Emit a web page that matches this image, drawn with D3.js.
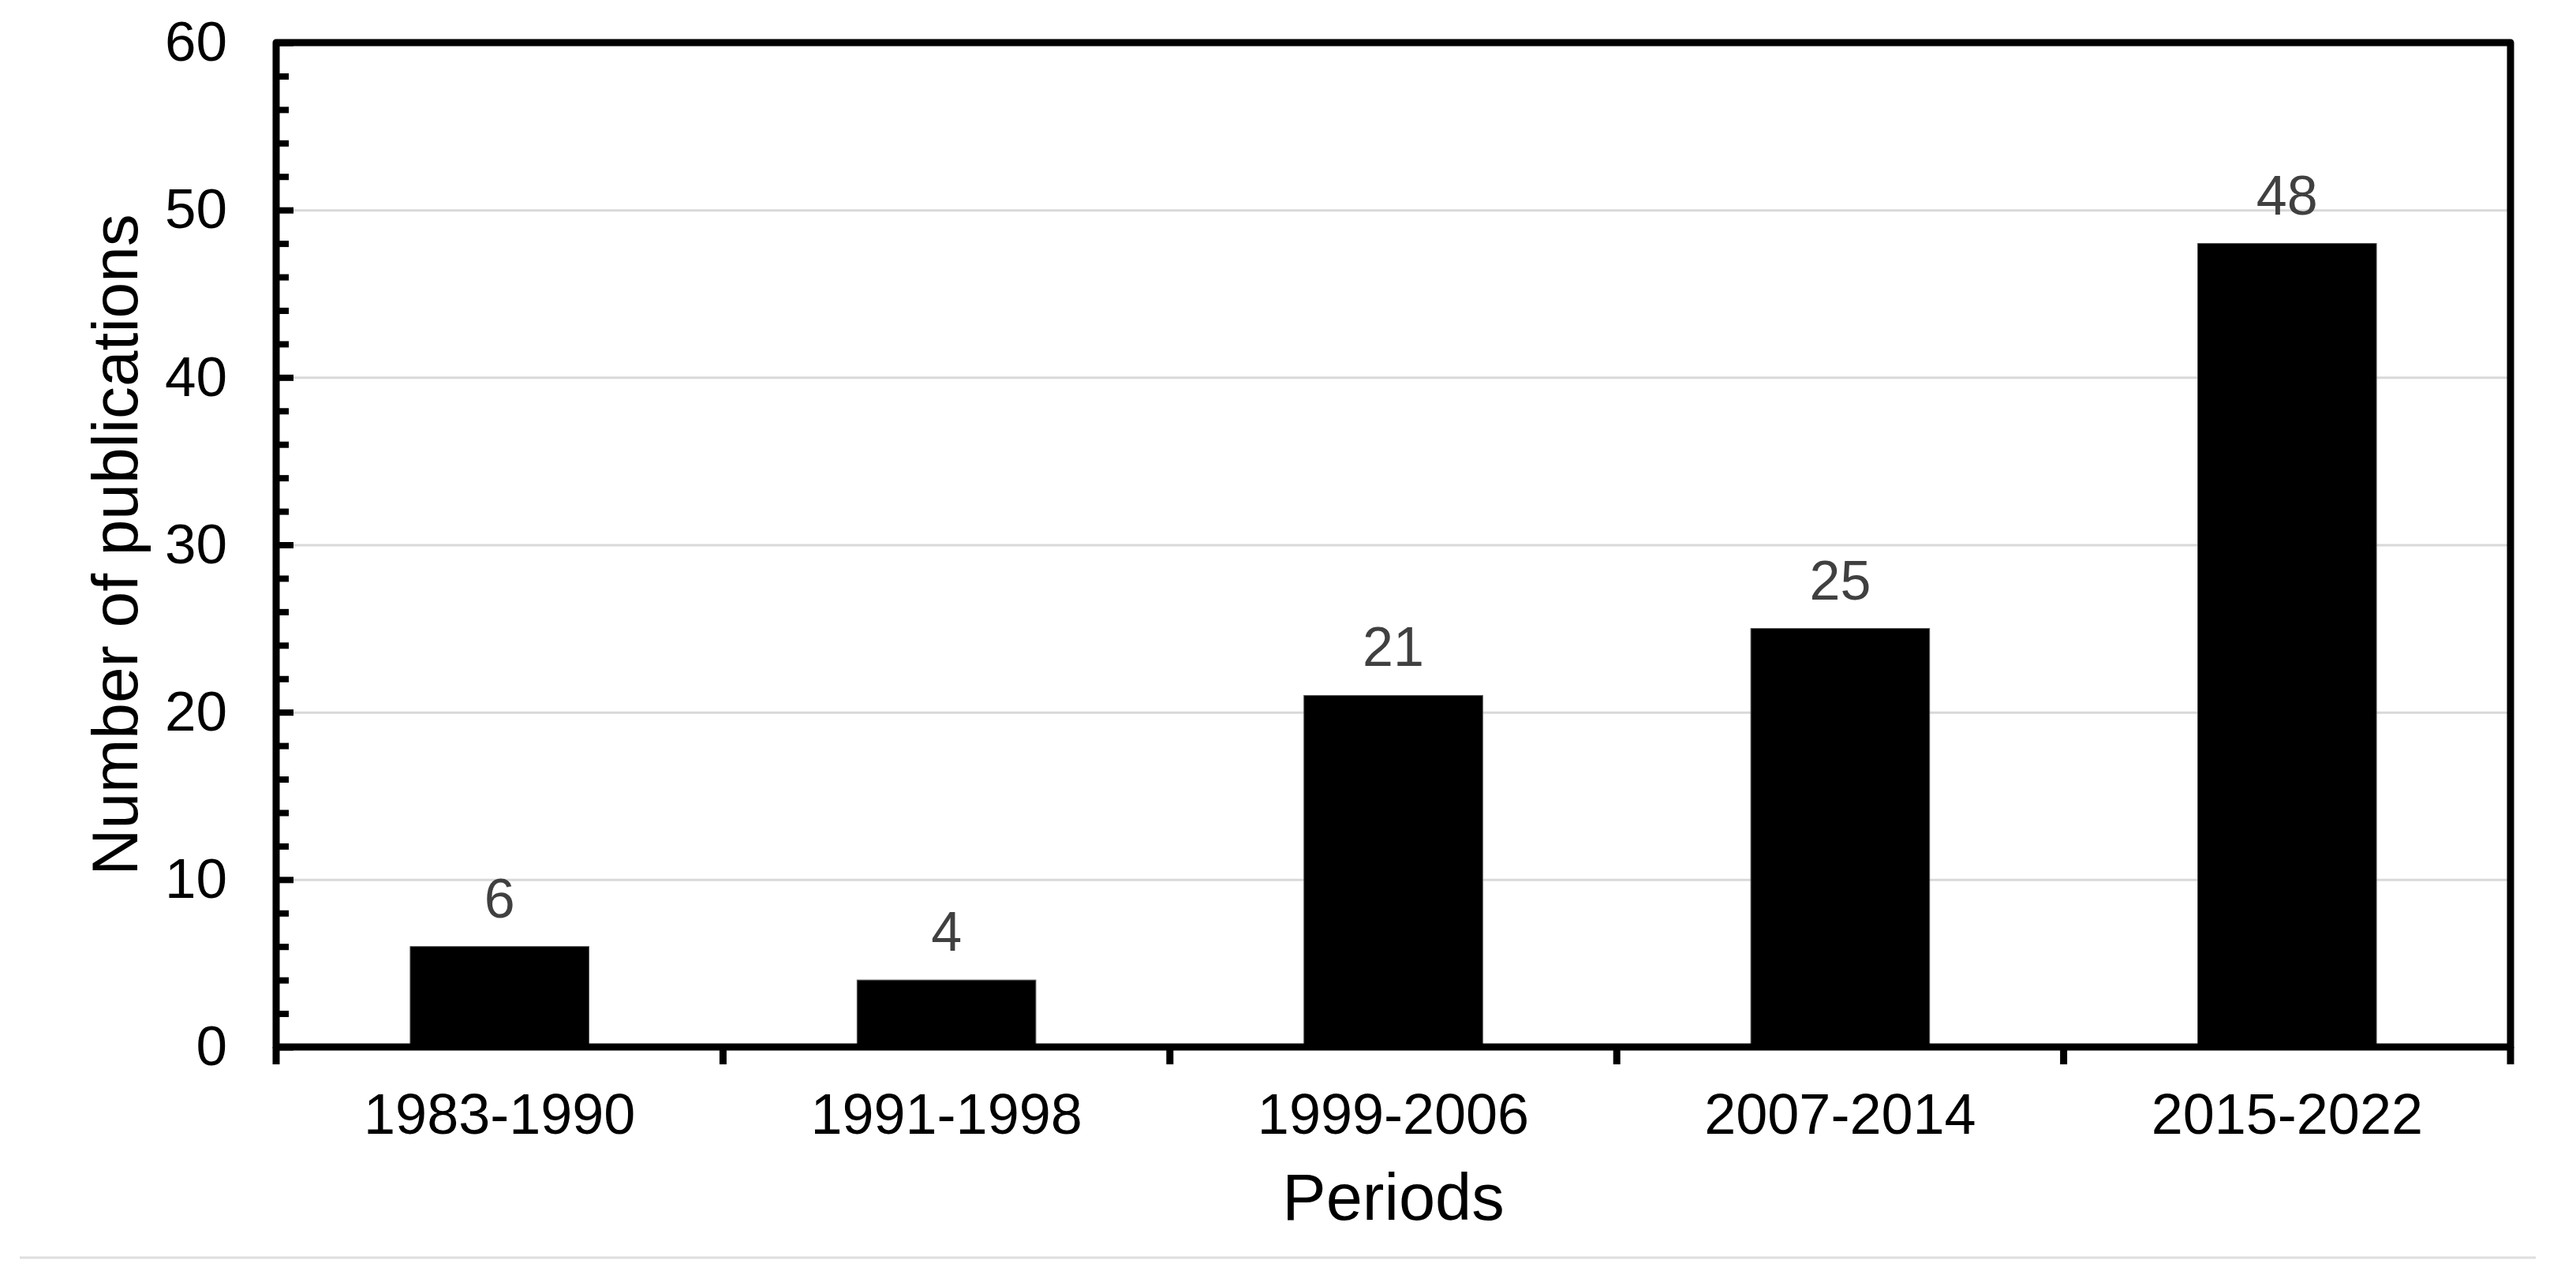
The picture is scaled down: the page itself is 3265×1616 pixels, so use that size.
<!DOCTYPE html>
<html>
<head>
<meta charset="utf-8">
<script src="https://cdn.jsdelivr.net/npm/d3@7"></script>
<style>
  html, body { margin: 0; padding: 0; background: #ffffff; }
  svg { display: block; }
  text { font-family: "Liberation Sans", Arial, sans-serif; }
</style>
</head>
<body>
<svg id="chart" width="3265" height="1616"></svg>
<script>
// ---- data ----
const categories = ["1983-1990", "1991-1998", "1999-2006", "2007-2014", "2015-2022"];
const values = [6, 4, 21, 25, 48];
const yMajorTicks = [0, 10, 20, 30, 40, 50, 60];
const yMinorTicks = [2, 4, 6, 8, 12, 14, 16, 18, 22, 24, 26, 28, 32, 34, 36, 38, 42, 44, 46, 48, 52, 54, 56, 58];
const gridTicks = [10, 20, 30, 40, 50];
const xTitle = "Periods";
const yTitle = "Number of publications";

(function () {
// ---- layout ----
const plotLeft = 350, plotRight = 3182, plotTop = 54, plotBottom = 1327;
const svg = d3.select("#chart");

const x = d3.scaleBand().domain(categories).range([plotLeft, plotRight]).paddingInner(0.6).paddingOuter(0.3);
const y = d3.scaleLinear().domain([0, 60]).range([plotBottom, plotTop]);

// gridlines
const grid = svg.append("g").attr("transform", `translate(${plotLeft},0)`)
  .call(d3.axisLeft(y).tickValues(gridTicks).tickSize(-(plotRight - plotLeft)).tickFormat(""));
grid.select(".domain").remove();
grid.selectAll(".tick line").attr("stroke", "#d9d9d9").attr("stroke-width", 3);

// bars
svg.append("g").selectAll("rect").data(values).join("rect")
  .attr("x", (d, i) => x(categories[i]))
  .attr("y", d => y(d))
  .attr("width", x.bandwidth())
  .attr("height", d => y(0) - y(d))
  .attr("fill", "#000000")
  .attr("stroke", "#555555")
  .attr("stroke-width", 1);

// data labels
svg.append("g").selectAll("text").data(values).join("text")
  .attr("x", (d, i) => x(categories[i]) + x.bandwidth() / 2)
  .attr("y", d => y(d) - 37)
  .attr("text-anchor", "middle")
  .attr("font-size", 70)
  .attr("fill", "#404040")
  .text(d => d);

// y minor ticks (inward)
const yMinor = svg.append("g").attr("transform", `translate(${plotLeft},0)`)
  .call(d3.axisLeft(y).tickValues(yMinorTicks).tickSize(-16).tickFormat(""));
yMinor.select(".domain").remove();
yMinor.selectAll(".tick line").attr("stroke", "#000").attr("stroke-width", 8);

// y major ticks + labels
const yAxis = svg.append("g").attr("transform", `translate(${plotLeft},0)`)
  .call(d3.axisLeft(y).tickValues(yMajorTicks).tickSize(-22).tickPadding(62));
yAxis.select(".domain").remove();
yAxis.selectAll(".tick line").attr("stroke", "#000").attr("stroke-width", 8);
yAxis.selectAll(".tick text").attr("font-size", 71).attr("fill", "#000")
  .attr("font-family", "'Liberation Sans', Arial, sans-serif");

// x axis labels
const xAxis = svg.append("g").attr("transform", `translate(0,${plotBottom})`)
  .call(d3.axisBottom(x).tickSize(0).tickPadding(59));
xAxis.select(".domain").remove();
xAxis.selectAll(".tick text").attr("font-size", 72).attr("fill", "#000")
  .attr("font-family", "'Liberation Sans', Arial, sans-serif");

// x boundary ticks (outward)
const gap = (x.step() - x.bandwidth()) / 2;
const boundaries = categories.map(c => x(c) - gap).concat([x(categories[categories.length - 1]) + x.bandwidth() + gap]);
svg.append("g").selectAll("line").data(boundaries).join("line")
  .attr("x1", d => d).attr("x2", d => d)
  .attr("y1", plotBottom).attr("y2", plotBottom + 22)
  .attr("stroke", "#000").attr("stroke-width", 9);

// frame
svg.append("rect")
  .attr("x", plotLeft).attr("y", plotTop)
  .attr("width", plotRight - plotLeft).attr("height", plotBottom - plotTop)
  .attr("fill", "none").attr("stroke", "#000").attr("stroke-width", 9)
  .attr("stroke-linejoin", "round");

// axis titles
svg.append("text")
  .attr("x", (plotLeft + plotRight) / 2).attr("y", 1546)
  .attr("text-anchor", "middle").attr("font-size", 83).attr("fill", "#000")
  .text(xTitle);
svg.append("text")
  .attr("transform", `translate(174,${(plotTop + plotBottom) / 2}) rotate(-90)`)
  .attr("text-anchor", "middle").attr("font-size", 82).attr("fill", "#000")
  .text(yTitle);

// bottom separator line
svg.append("line")
  .attr("x1", 25).attr("x2", 3214).attr("y1", 1594).attr("y2", 1594)
  .attr("stroke", "#dedede").attr("stroke-width", 3);
})();
</script>
</body>
</html>
